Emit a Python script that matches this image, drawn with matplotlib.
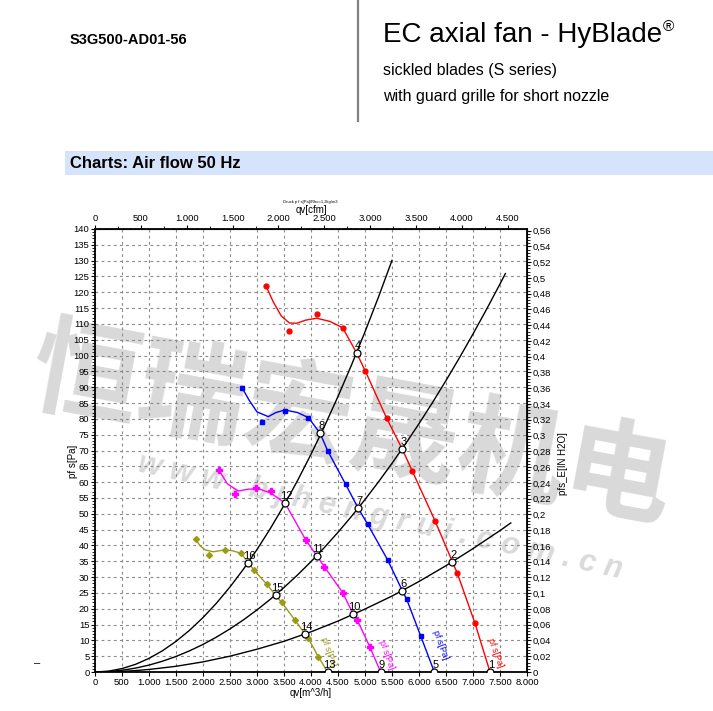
import matplotlib
matplotlib.use("Agg")
import matplotlib.pyplot as plt
from matplotlib.lines import Line2D
from matplotlib.patches import Rectangle
from matplotlib.ticker import MultipleLocator, FixedLocator, FuncFormatter

# ---------------- data ----------------
# system curves (qv [m3/h], pf s [Pa])
sysA_x = [0, 250, 500, 750, 1000, 1250, 1500, 1750, 2000, 2250, 2500, 2750, 3000, 3250, 3500,
          3750, 4000, 4250, 4500, 4750, 5000, 5250, 5500]
sysA_y = [0, 0.27, 1.08, 2.42, 4.3, 6.72, 9.68, 13.17, 17.2, 21.77, 26.88, 32.52, 38.7, 45.42,
          52.68, 60.47, 68.8, 77.67, 87.08, 97.02, 107.5, 118.52, 130.08]
sysB_x = [0, 250, 500, 750, 1000, 1250, 1500, 1750, 2000, 2250, 2500, 2750, 3000, 3250, 3500,
          3750, 4000, 4250, 4500, 4750, 5000, 5250, 5500, 5750, 6000, 6250, 6500, 6750, 7000,
          7250, 7500, 7600]
sysB_y = [0, 0.14, 0.55, 1.23, 2.18, 3.41, 4.91, 6.68, 8.72, 11.04, 13.63, 16.49, 19.62, 23.03,
          26.71, 30.66, 34.88, 39.38, 44.15, 49.19, 54.5, 60.09, 65.95, 72.08, 78.48, 85.16,
          92.11, 99.33, 106.82, 114.59, 122.63, 125.92]
sysC_x = [0, 250, 500, 750, 1000, 1500, 2000, 2500, 3000, 3500, 4000, 4500, 5000, 5500, 6000,
          6500, 7000, 7500, 7700]
sysC_y = [0, 0.05, 0.2, 0.45, 0.8, 1.8, 3.2, 5.0, 7.2, 9.7, 12.7, 16.1, 19.9, 24.0, 28.6, 33.6,
          39.0, 44.7, 47.1]

# fan curves (line)
red_x = [3167, 3300, 3450, 3600, 3735, 3900, 4105, 4350, 4586, 4846, 5006, 5401, 5691, 5876, 6296, 6617, 6710, 7037, 7315]
red_y = [122, 117, 112.5, 110.3, 110.2, 111.2, 111.8, 110.8, 108.8, 100.8, 95.1, 80.2, 70.4, 63.5, 47.8, 34.9, 31.2, 15.4, 0]
blue_x = [2722, 2850, 3000, 3210, 3350, 3518, 3750, 3951, 4167, 4309, 4642, 4876, 5049, 5420, 5691, 5772, 6031, 6284]
blue_y = [89.9, 86, 82.2, 80.7, 82, 82.8, 82, 80.4, 75.5, 69.9, 59.3, 51.7, 46.7, 35.4, 25.7, 23.0, 11.4, 0]
mag_x = [2296, 2450, 2650, 2850, 3050, 3259, 3518, 3907, 4105, 4246, 4586, 4784, 4858, 5093, 5290]
mag_y = [63.8, 59.5, 57.2, 57.8, 57.8, 56.5, 53.4, 41.6, 36.8, 33.3, 25.1, 18.2, 16.4, 7.8, 0]
oli_x = [1864, 1950, 2037, 2191, 2407, 2550, 2704, 2840, 2944, 3179, 3346, 3457, 3704, 3889, 3951, 4136, 4309]
oli_y = [41.9, 39.8, 38.6, 38.0, 38.6, 38.3, 37.5, 34.5, 32.2, 27.8, 24.2, 22.0, 16.4, 12.0, 10.6, 4.8, 0]

# measured markers
red_mx = [3167, 3593, 4105, 4586, 5006, 5401, 5876, 6296, 6710, 7037]
red_my = [122, 107.8, 113.1, 108.8, 95.1, 80.2, 63.5, 47.8, 31.2, 15.4]
blue_mx = [2722, 3087, 3518, 3951, 4309, 4642, 5049, 5420, 5772, 6031]
blue_my = [89.9, 79.1, 82.6, 80.4, 69.9, 59.3, 46.7, 35.4, 23.0, 11.4]
mag_mx = [2296, 2593, 2981, 3259, 3907, 4246, 4586, 4858, 5093]
mag_my = [63.8, 56.3, 58.2, 57.2, 41.6, 33.3, 25.1, 16.4, 7.8]
oli_mx = [1864, 2117, 2407, 2704, 2944, 3179, 3457, 3704, 3951, 4136]
oli_my = [41.9, 37.1, 38.6, 37.5, 32.2, 27.8, 22.0, 16.4, 10.6, 4.8]

# operating points
op_labels = ["1", "2", "3", "4", "5", "6", "7", "8", "9", "10", "11", "12", "13", "14", "15", "16"]
op_x = [7315, 6617, 5691, 4846, 6284, 5691, 4876, 4167, 5290, 4784, 4105, 3518, 4309, 3889, 3346, 2840]
op_y = [0, 34.9, 70.4, 100.8, 0, 25.7, 51.7, 75.5, 0, 18.2, 36.8, 53.4, 0, 12.0, 24.2, 34.5]

# axis ticks
cfm_ticks = [0, 500, 1000, 1500, 2000, 2500, 3000, 3500, 4000, 4500]
inh2o_ticks = [0, 0.02, 0.04, 0.06, 0.08, 0.1, 0.12, 0.14, 0.16, 0.18, 0.2, 0.22, 0.24, 0.26,
               0.28, 0.3, 0.32, 0.34, 0.36, 0.38, 0.4, 0.42, 0.44, 0.46, 0.48, 0.5, 0.52,
               0.54, 0.56]

curve_label = "pf s[Pa]"

# ---------------- figure ----------------
W, H = 713, 711
fig = plt.figure(figsize=(W / 100, H / 100), dpi=100)
fig.patch.set_facecolor("white")

def fx(px):
    return px / W

def fy(py):
    return 1 - py / H

NARROW = ["Liberation Sans Narrow", "Liberation Sans", "DejaVu Sans"]
SANS = ["Liberation Sans", "DejaVu Sans"]

# watermark (behind the chart)
fig.text(fx(352), fy(428), "恒瑞宏晟机电", family=["Noto Sans CJK SC", "DejaVu Sans"],
         fontsize=78, fontweight="bold", color="#d9d9d9", rotation=-10.5,
         ha="center", va="center", zorder=-2)
fig.text(fx(380), fy(517), "w w w . b j h e n g r u i . c o m . c n", family=SANS,
         fontsize=22, fontweight="bold", style="italic", color="#dadada", rotation=-12.5,
         ha="center", va="center", zorder=-2)

# header
fig.text(fx(70), fy(40), "S3G500-AD01-56", family=NARROW, fontsize=10.5, fontweight="bold",
         ha="left", va="center")
t = fig.text(fx(383), fy(35), "EC axial fan - HyBlade", family=NARROW, fontsize=20,
             ha="left", va="center")
renderer = fig.canvas.get_renderer()
bb = t.get_window_extent(renderer)
fig.text(bb.x1 / W + 0.001, fy(27), "®", family=NARROW, fontsize=11, ha="left", va="center")
fig.text(fx(383), fy(70), "sickled blades (S series)", family=NARROW, fontsize=11.5,
         ha="left", va="center")
fig.text(fx(383), fy(97), "with guard grille for short nozzle", family=NARROW, fontsize=11.5,
         ha="left", va="center")
fig.add_artist(Line2D([fx(358), fx(358)], [fy(0), fy(121)], color="#808080", lw=1.6))
fig.add_artist(Rectangle((fx(65), fy(175)), fx(713) - fx(65), (175 - 151) / H,
                         facecolor="#d6e4fb", edgecolor="none", zorder=-3))
fig.text(fx(70), fy(163), "Charts: Air flow 50 Hz", family=NARROW, fontsize=12,
         fontweight="bold", ha="left", va="center")
fig.text(fx(37), fy(663), "–", family=SANS, fontsize=8, ha="center", va="center")

# axes
ax = fig.add_axes([fx(95), fy(672), 432 / W, 443 / H])
ax.set_zorder(1)
ax.patch.set_alpha(0)
ax.set_xlim(0, 8000)
ax.set_ylim(0, 140)
ax.xaxis.set_major_locator(MultipleLocator(500))
ax.yaxis.set_major_locator(MultipleLocator(5))
ax.yaxis.set_minor_locator(MultipleLocator(1))
ax.grid(True, which="major", color="#8a8a8a", lw=0.8, linestyle=(0, (2.5, 3)))
ax.set_axisbelow(True)
for s in ax.spines.values():
    s.set_linewidth(1.3)

def fmt_thousand(v, pos=None):
    v = int(round(v))
    return f"{v:,}".replace(",", ".")

ax.xaxis.set_major_formatter(FuncFormatter(fmt_thousand))
ax.tick_params(axis="both", which="major", labelsize=6.8, length=3, width=0.8, pad=1)
ax.tick_params(axis="y", which="minor", length=2, width=0.6)
for lab in ax.get_xticklabels() + ax.get_yticklabels():
    lab.set_family(SANS)
ax.set_xlabel("qv[m^3/h]", fontsize=7, family=SANS, labelpad=1)
ax.text(-0.051, 0.475, "pf s[Pa]", transform=ax.transAxes, fontsize=7, family=SANS,
        rotation=90, ha="center", va="center")

# top axis (cfm)
top = ax.secondary_xaxis("top", functions=(lambda q: q / 1.699, lambda c: c * 1.699))
top.xaxis.set_major_locator(FixedLocator(cfm_ticks))
top.xaxis.set_minor_locator(FixedLocator([v + 250 for v in cfm_ticks]))
top.xaxis.set_major_formatter(FuncFormatter(fmt_thousand))
top.tick_params(which="major", labelsize=6.8, length=3, width=0.8, pad=1)
top.tick_params(which="minor", length=2, width=0.6)
top.set_xlabel("qv[cfm]", fontsize=7, family=SANS, labelpad=1)
for lab in top.get_xticklabels():
    lab.set_family(SANS)

# right axis (in H2O)
def fmt_comma(v, pos=None):
    if abs(v) < 1e-9:
        return "0"
    s = f"{v:.2f}".rstrip("0").rstrip(".")
    return s.replace(".", ",")

right = ax.secondary_yaxis("right", functions=(lambda p: p / 249.09, lambda h: h * 249.09))
right.yaxis.set_major_locator(FixedLocator(inh2o_ticks))
right.yaxis.set_minor_locator(MultipleLocator(0.004))
right.yaxis.set_major_formatter(FuncFormatter(fmt_comma))
right.tick_params(which="major", labelsize=6.8, length=3, width=0.8, pad=1)
right.tick_params(which="minor", length=2, width=0.6)
for lab in right.get_yticklabels():
    lab.set_family(SANS)
ax.text(1.083, 0.47, "pfs_E[IN H2O]", transform=ax.transAxes, fontsize=7, family=SANS,
        rotation=90, ha="center", va="center")

fig.text(fx(310), fy(202), "Druck p f s[Pa]/Rho=1,2kg/m3", family=SANS, fontsize=3,
         ha="center", va="center")

# system curves
for xs, ys in [(sysA_x, sysA_y), (sysB_x, sysB_y), (sysC_x, sysC_y)]:
    ax.plot(xs, ys, color="black", lw=1.0, zorder=3)

# fan curves
OLIVE = "#9a9a14"
series = [
    (red_x, red_y, red_mx, red_my, "red", "o", 3.5),
    (blue_x, blue_y, blue_mx, blue_my, "blue", "s", 3.5),
    (mag_x, mag_y, mag_mx, mag_my, "magenta", "P", 4.0),
    (oli_x, oli_y, oli_mx, oli_my, OLIVE, "D", 3.0),
]
for lx, ly, mx, my, c, m, ms in series:
    ax.plot(lx, ly, color=c, lw=1.0, zorder=4)
    ax.plot(mx, my, linestyle="none", marker=m, color=c, ms=ms, zorder=5)

# rotated curve labels
lab_pos = [(7420, 6.0, "red"), (6400, 8.5, "blue"), (5400, 5.5, "magenta"), (4330, 6.3, OLIVE)]
for x, y, c in lab_pos:
    ax.text(x, y, curve_label, color=c, fontsize=6.5, family=SANS, rotation=-70,
            ha="center", va="center", zorder=6)

# operating points
ax.plot(op_x, op_y, linestyle="none", marker="o", ms=5, mfc="white", mec="black",
        mew=0.9, zorder=7)
for lbl, x, y in zip(op_labels, op_x, op_y):
    ax.annotate(lbl, (x, y), xytext=(1, 5), textcoords="offset points", fontsize=8,
                family=SANS, ha="center", va="center", zorder=8)

fig.savefig("out.png", dpi=100)
